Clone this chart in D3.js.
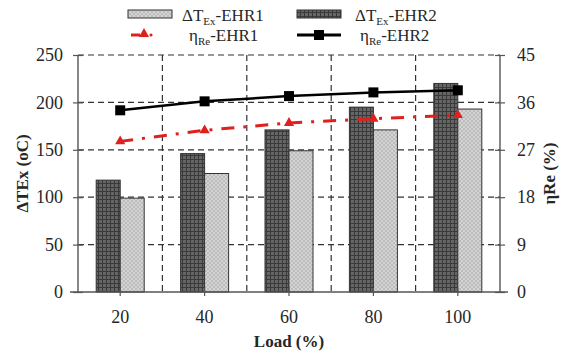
<!DOCTYPE html>
<html>
<head>
<meta charset="utf-8">
<script src="https://cdn.jsdelivr.net/npm/d3@7"></script>
<style>
  body { margin: 0; background: #fff; }
  text { font-family: "Liberation Serif", "Times New Roman", serif; fill: #262626; }
</style>
</head>
<body>
<svg id="chart" width="563" height="354"></svg>
<script>
// data
const loads = ['20', '40', '60', '80', '100'];
const dTexEHR1 = [99, 125, 149, 171, 193];
const dTexEHR2 = [118, 146, 171, 195, 220];
const etaEHR1 = [28.6, 30.7, 32.1, 32.9, 33.6];
const etaEHR2 = [34.5, 36.2, 37.2, 37.9, 38.3];
const leftTicks = [0, 50, 100, 150, 200, 250];
const rightTicks = [0, 9, 18, 27, 36, 45];

const svg = d3.select('#chart'),
  margin = {top: 55, right: 63, bottom: 62, left: 78},
  width = +svg.attr('width') - margin.left - margin.right,
  height = +svg.attr('height') - margin.top - margin.bottom,
  g = svg.append('g').attr('transform', 'translate(' + margin.left + ',' + margin.top + ')');

// fill patterns for the two bar series
const defs = svg.append('defs');
const p1 = defs.append('pattern').attr('id', 'light')
  .attr('width', 4).attr('height', 4).attr('patternUnits', 'userSpaceOnUse');
p1.append('rect').attr('width', 4).attr('height', 4).attr('fill', '#d4d4d4');
p1.append('path').attr('d', 'M0,4 L4,0 M0,0 L4,4').attr('stroke', '#b2b2b2').attr('stroke-width', 0.7);

const p2 = defs.append('pattern').attr('id', 'dark')
  .attr('width', 4).attr('height', 4).attr('patternUnits', 'userSpaceOnUse');
p2.append('rect').attr('width', 4).attr('height', 4).attr('fill', '#666');
p2.append('path').attr('d', 'M0,0.5 H4 M0.5,0 V4').attr('stroke', '#3a3a3a').attr('stroke-width', 1);

const x = d3.scaleBand().domain(loads).range([0, width]);
const y = d3.scaleLinear().domain([0, 250]).range([height, 0]);
const y2 = d3.scaleLinear().domain([0, 45]).range([height, 0]);

const axisColor = '#555';

// horizontal gridlines
g.selectAll('.hgrid')
  .data(leftTicks.filter(d => d > 0))
  .enter().append('line')
  .attr('x1', 0).attr('x2', width)
  .attr('y1', d => y(d)).attr('y2', d => y(d))
  .attr('stroke', '#333').attr('stroke-width', 1.2).attr('stroke-dasharray', '6,4');

// vertical gridlines at band boundaries
g.selectAll('.vgrid')
  .data(loads.slice(1))
  .enter().append('line')
  .attr('x1', d => x(d)).attr('x2', d => x(d))
  .attr('y1', 0).attr('y2', height)
  .attr('stroke', '#333').attr('stroke-width', 1.2).attr('stroke-dasharray', '6,4');

const bw = 24;
g.selectAll('.bar2')
  .data(dTexEHR2)
  .enter().append('rect')
  .attr('x', (d, i) => x(loads[i]) + x.bandwidth() / 2 - bw)
  .attr('y', d => y(d))
  .attr('width', bw)
  .attr('height', d => height - y(d))
  .attr('fill', 'url(#dark)')
  .attr('stroke', '#333').attr('stroke-width', 1);

g.selectAll('.bar1')
  .data(dTexEHR1)
  .enter().append('rect')
  .attr('x', (d, i) => x(loads[i]) + x.bandwidth() / 2)
  .attr('y', d => y(d))
  .attr('width', bw)
  .attr('height', d => height - y(d))
  .attr('fill', 'url(#light)')
  .attr('stroke', '#333').attr('stroke-width', 1);

// axes
const leftAxis = g.append('g')
  .call(d3.axisLeft(y).tickValues(leftTicks).tickSize(5).tickPadding(10));
const rightAxis = g.append('g')
  .attr('transform', 'translate(' + width + ',0)')
  .call(d3.axisRight(y2).tickValues(rightTicks).tickSize(5).tickPadding(12));
const bottomAxis = g.append('g')
  .attr('transform', 'translate(0,' + height + ')')
  .call(d3.axisBottom(x).tickSize(0).tickPadding(18));

[leftAxis, rightAxis, bottomAxis].forEach(a => {
  a.select('.domain').attr('stroke', axisColor).attr('stroke-width', 1.4);
  a.selectAll('line').attr('stroke', axisColor).attr('stroke-width', 1.2);
  a.selectAll('text').style('font-family', '"Liberation Serif", "Times New Roman", serif')
    .style('font-size', '18px').attr('fill', '#262626');
});
leftAxis.selectAll('.tick line').attr('x2', 5).attr('x1', -5);
rightAxis.selectAll('.tick line').attr('x1', -5).attr('x2', 5);
leftAxis.select('.domain').attr('d', 'M0,' + height + 'V0');
rightAxis.select('.domain').attr('d', 'M0,' + height + 'V0');
bottomAxis.select('.domain').attr('d', 'M-8,0H' + (width + 8));
// small tick marks at the category centers
g.selectAll('.xtick')
  .data(loads)
  .enter().append('line')
  .attr('x1', d => x(d) + x.bandwidth() / 2).attr('x2', d => x(d) + x.bandwidth() / 2)
  .attr('y1', height - 4).attr('y2', height + 4)
  .attr('stroke', axisColor).attr('stroke-width', 1.2);

// efficiency lines
const line = d3.line()
  .x((d, i) => x(loads[i]) + x.bandwidth() / 2)
  .y(d => y2(d));

g.append('path')
  .datum(etaEHR1)
  .attr('d', line)
  .attr('fill', 'none')
  .attr('stroke', '#e0201c').attr('stroke-width', 3)
  .attr('stroke-dasharray', '13,9,3,9');

const tri = d3.symbol().type(d3.symbolTriangle).size(45);
g.selectAll('.tri')
  .data(etaEHR1)
  .enter().append('path')
  .attr('d', tri)
  .attr('transform', (d, i) => 'translate(' + (x(loads[i]) + x.bandwidth() / 2) + ',' + y2(d) + ')')
  .attr('fill', '#e0201c');

g.append('path')
  .datum(etaEHR2)
  .attr('d', line)
  .attr('fill', 'none')
  .attr('stroke', '#000').attr('stroke-width', 2.5);

g.selectAll('.sq')
  .data(etaEHR2)
  .enter().append('rect')
  .attr('x', (d, i) => x(loads[i]) + x.bandwidth() / 2 - 5)
  .attr('y', d => y2(d) - 5)
  .attr('width', 10).attr('height', 10)
  .attr('fill', '#000');

// axis titles
svg.append('text')
  .attr('transform', 'translate(28,' + (margin.top + height / 2) + ') rotate(-90)')
  .attr('text-anchor', 'middle')
  .style('font-size', '17px').style('font-weight', 'bold')
  .text('ΔTEx (oC)');

svg.append('text')
  .attr('transform', 'translate(555,' + (margin.top + height / 2) + ') rotate(-90)')
  .attr('text-anchor', 'middle')
  .style('font-size', '17px').style('font-weight', 'bold')
  .text('ηRe (%)');

svg.append('text')
  .attr('x', margin.left + width / 2)
  .attr('y', 347)
  .attr('text-anchor', 'middle')
  .style('font-size', '17px').style('font-weight', 'bold')
  .text('Load (%)');

// legend
const legend = svg.append('g');
legend.append('rect').attr('x', 128).attr('y', 10).attr('width', 44).attr('height', 8)
  .attr('fill', 'url(#light)').attr('stroke', '#333').attr('stroke-width', 1);
legend.append('rect').attr('x', 297).attr('y', 10).attr('width', 44).attr('height', 8)
  .attr('fill', 'url(#dark)').attr('stroke', '#333').attr('stroke-width', 1);

legend.append('line').attr('x1', 131).attr('x2', 140).attr('y1', 35).attr('y2', 35)
  .attr('stroke', '#e0201c').attr('stroke-width', 3);
legend.append('path').attr('d', tri).attr('transform', 'translate(144,34)').attr('fill', '#e0201c');
legend.append('circle').attr('cx', 151).attr('cy', 35).attr('r', 1.6).attr('fill', '#e0201c');

legend.append('line').attr('x1', 297).attr('x2', 341).attr('y1', 35).attr('y2', 35)
  .attr('stroke', '#000').attr('stroke-width', 3);
legend.append('rect').attr('x', 314).attr('y', 30).attr('width', 10).attr('height', 10).attr('fill', '#000');

function subLabel(xp, yp, main, sub, rest) {
  const t = legend.append('text').attr('x', xp).attr('y', yp).style('font-size', '17px');
  t.append('tspan').text(main);
  t.append('tspan').attr('dy', 4).style('font-size', '11px').text(sub);
  t.append('tspan').attr('dy', -4).text(rest);
}
subLabel(182, 21, 'ΔT', 'Ex', '-EHR1');
subLabel(355, 21, 'ΔT', 'Ex', '-EHR2');
subLabel(189, 41, 'η', 'Re', '-EHR1');
subLabel(360, 41, 'η', 'Re', '-EHR2');
</script>
</body>
</html>
